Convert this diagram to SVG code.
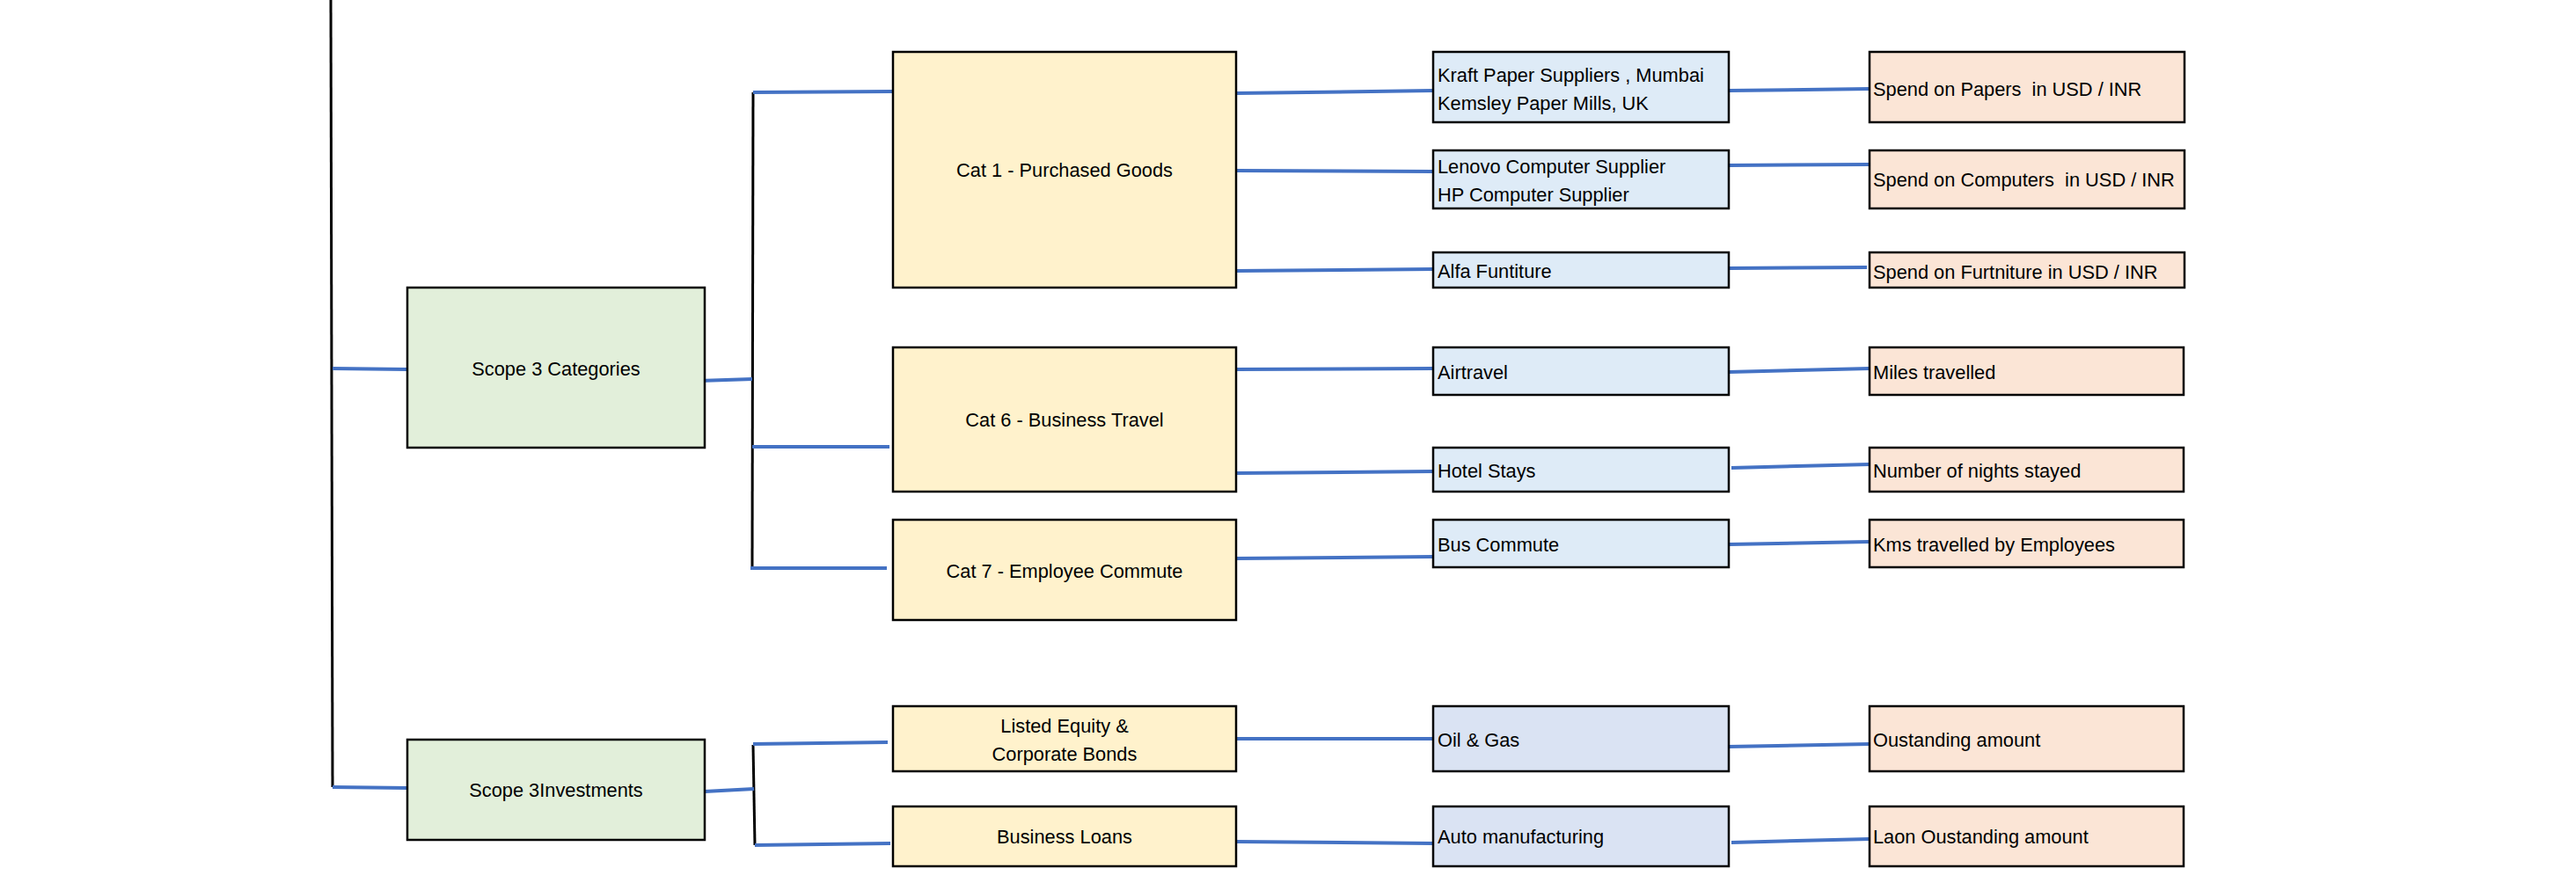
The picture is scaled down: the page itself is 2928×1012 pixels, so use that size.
<svg xmlns="http://www.w3.org/2000/svg" width="2928" height="1012" viewBox="0 0 2928 1012">
<style>
.box{stroke:#000;stroke-width:2.5}
.g{fill:#E2EFDA}
.y{fill:#FFF2CC}
.b{fill:#DEEBF7}
.b2{fill:#DAE3F3}
.o{fill:#FBE5D6}
text{font-family:"Liberation Sans",Arial,sans-serif;font-size:21.8px;fill:#000;dominant-baseline:central;white-space:pre}
.c{text-anchor:middle}
.bl{stroke:#4472C4;stroke-width:4;fill:none}
.bk{stroke:#000;stroke-width:3;fill:none}
</style>
<rect width="2928" height="1012" fill="#fff"/>
<g id="connectors">
<path class="bk" d="M376 0 L378 895"/>
<path class="bl" d="M378 419 L463 420"/>
<path class="bl" d="M378 895 L463 896"/>
<path class="bk" d="M856 105 L855 646"/>
<path class="bl" d="M795 433 L855 431"/>
<path class="bl" d="M856 105 L1014 104"/>
<path class="bl" d="M855 508 L1011 508"/>
<path class="bl" d="M853 646 L1008 646"/>
<path class="bk" d="M856 847 L858 961"/>
<path class="bl" d="M801 900 L857 897"/>
<path class="bl" d="M856 846 L1009 844"/>
<path class="bl" d="M858 961 L1012 959"/>
<path class="bl" d="M1405 106 L1629 103"/>
<path class="bl" d="M1405 194 L1629 195"/>
<path class="bl" d="M1405 308 L1629 306"/>
<path class="bl" d="M1405 420 L1629 419"/>
<path class="bl" d="M1405 538 L1629 536"/>
<path class="bl" d="M1405 635 L1629 633"/>
<path class="bl" d="M1405 840 L1629 840"/>
<path class="bl" d="M1405 957 L1629 959"/>
<path class="bl" d="M1965 103 L2125 101"/>
<path class="bl" d="M1965 188 L2125 187"/>
<path class="bl" d="M1965 305 L2122 304"/>
<path class="bl" d="M1965 423 L2125 419"/>
<path class="bl" d="M1968 532 L2125 528"/>
<path class="bl" d="M1965 619 L2125 616"/>
<path class="bl" d="M1965 849 L2125 846"/>
<path class="bl" d="M1968 958 L2125 954"/>
</g>
<g id="scope3-categories"><rect class="box g" x="463" y="327" width="338" height="182"/><text class="c" x="632" y="419">Scope 3 Categories</text></g>
<g id="scope3-investments"><rect class="box g" x="463" y="841" width="338" height="114"/><text class="c" x="632" y="898">Scope 3Investments</text></g>
<g id="cat1"><rect class="box y" x="1015" y="59" width="390" height="268"/><text class="c" x="1210" y="193">Cat 1 - Purchased Goods</text></g>
<g id="cat6"><rect class="box y" x="1015" y="395" width="390" height="164"/><text class="c" x="1210" y="477">Cat 6 - Business Travel</text></g>
<g id="cat7"><rect class="box y" x="1015" y="591" width="390" height="114"/><text class="c" x="1210" y="649">Cat 7 - Employee Commute</text></g>
<g id="listed-equity"><rect class="box y" x="1015" y="803" width="390" height="74"/><text class="c" x="1210" y="825">Listed Equity &amp;</text><text class="c" x="1210" y="857">Corporate Bonds</text></g>
<g id="business-loans"><rect class="box y" x="1015" y="917" width="390" height="68"/><text class="c" x="1210" y="951">Business Loans</text></g>
<g id="paper-suppliers"><rect class="box b" x="1629" y="59" width="336" height="80"/><text x="1634" y="85">Kraft Paper Suppliers , Mumbai</text><text x="1634" y="117">Kemsley Paper Mills, UK</text></g>
<g id="computer-suppliers"><rect class="box b" x="1629" y="171" width="336" height="66"/><text x="1634" y="189">Lenovo Computer Supplier</text><text x="1634" y="221">HP Computer Supplier</text></g>
<g id="alfa"><rect class="box b" x="1629" y="287" width="336" height="40"/><text x="1634" y="308">Alfa Funtiture</text></g>
<g id="airtravel"><rect class="box b" x="1629" y="395" width="336" height="54"/><text x="1634" y="423">Airtravel</text></g>
<g id="hotel"><rect class="box b" x="1629" y="509" width="336" height="50"/><text x="1634" y="535">Hotel Stays</text></g>
<g id="bus"><rect class="box b" x="1629" y="591" width="336" height="54"/><text x="1634" y="619">Bus Commute</text></g>
<g id="oil-gas"><rect class="box b2" x="1629" y="803" width="336" height="74"/><text x="1634" y="841">Oil &amp; Gas</text></g>
<g id="auto"><rect class="box b2" x="1629" y="917" width="336" height="68"/><text x="1634" y="951">Auto manufacturing</text></g>
<g id="spend-papers"><rect class="box o" x="2125" y="59" width="358" height="80"/><text x="2129" y="101">Spend on Papers  in USD / INR</text></g>
<g id="spend-computers"><rect class="box o" x="2125" y="171" width="358" height="66"/><text x="2129" y="204">Spend on Computers  in USD / INR</text></g>
<g id="spend-furniture"><rect class="box o" x="2125" y="287" width="358" height="40"/><text x="2129" y="309">Spend on Furtniture in USD / INR</text></g>
<g id="miles"><rect class="box o" x="2125" y="395" width="357" height="54"/><text x="2129" y="423">Miles travelled</text></g>
<g id="nights"><rect class="box o" x="2125" y="509" width="357" height="50"/><text x="2129" y="535">Number of nights stayed</text></g>
<g id="kms"><rect class="box o" x="2125" y="591" width="357" height="54"/><text x="2129" y="619">Kms travelled by Employees</text></g>
<g id="outstanding"><rect class="box o" x="2125" y="803" width="357" height="74"/><text x="2129" y="841">Oustanding amount</text></g>
<g id="loan-outstanding"><rect class="box o" x="2125" y="917" width="357" height="68"/><text x="2129" y="951">Laon Oustanding amount</text></g>
</svg>
